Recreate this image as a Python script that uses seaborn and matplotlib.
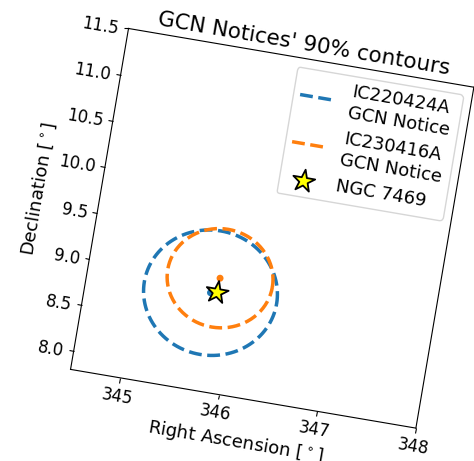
import numpy as np
import pandas as pd
import matplotlib
matplotlib.use("Agg")
import matplotlib.pyplot as plt
import matplotlib.transforms as mtransforms
from matplotlib.backend_bases import RendererBase
import seaborn as sns

# 90% error circles reported in the two GCN notices
events = ["IC220424A\nGCN Notice", "IC230416A\nGCN Notice"]
center_ra = [345.75, 345.82]
center_dec = [8.86, 9.03]
radius_deg = [0.67, 0.53]
event_colors = ["#1f77b4", "#ff7f0e"]

# Candidate host galaxy
source_name = "NGC 7469"
source_ra = [345.815]
source_dec = [8.874]

ra_ticks = [345, 346, 347, 348]
ra_lim = (344.5, 348.0)
dec_lim = (7.8, 11.5)

# the whole panel is drawn tilted clockwise about the centre of the axes
TILT_DEG = -9.65
FIG_W, FIG_H, DPI = 4.74, 4.61, 100
AX_W, AX_H = 350.3, 345.8          # axes size in pixels
AX_CX, AX_CY = 272.2, 232.7        # axes centre in pixels (origin bottom-left)


class TiltedRenderer:
    """Wraps a renderer and rotates everything it draws about a pivot."""

    def __init__(self, base, cx, cy, deg):
        self._base = base
        self._deg = deg
        self._rot = mtransforms.Affine2D().rotate_deg_around(cx, cy, deg)

    def __getattr__(self, name):
        return getattr(self._base, name)

    def draw_path(self, gc, path, transform, rgbFace=None):
        gc.set_clip_rectangle(None)
        gc.set_clip_path(None)
        self._base.draw_path(gc, path, transform + self._rot, rgbFace)

    def draw_markers(self, gc, marker_path, marker_trans, path, trans, rgbFace=None):
        RendererBase.draw_markers(self, gc, marker_path, marker_trans, path, trans, rgbFace)

    def draw_path_collection(self, *args, **kwargs):
        RendererBase.draw_path_collection(self, *args, **kwargs)

    def draw_text(self, gc, x, y, s, prop, angle, ismath=False, mtext=None):
        gc.set_clip_rectangle(None)
        h = self._base.height
        xr, yr = self._rot.transform((x, h - y))
        self._base.draw_text(gc, xr, h - yr, s, prop, angle + self._deg, ismath, mtext)


# contour outlines built from centre and radius
phi = np.linspace(0.0, 2.0 * np.pi, 241)
frames = []
for name, ra0, dec0, r in zip(events, center_ra, center_dec, radius_deg):
    frames.append(pd.DataFrame({
        "ra": ra0 + r * np.cos(phi),
        "dec": dec0 + r * np.sin(phi),
        "event": name,
    }))
contours = pd.concat(frames, ignore_index=True)

fig = plt.figure(figsize=(FIG_W, FIG_H), dpi=DPI)
W, H = FIG_W * DPI, FIG_H * DPI
ax = fig.add_axes([(AX_CX - AX_W / 2) / W, (AX_CY - AX_H / 2) / H, AX_W / W, AX_H / H])

for name, color in zip(events, event_colors):
    sns.lineplot(data=contours[contours["event"] == name], x="ra", y="dec",
                 sort=False, estimator=None, color=color, linestyle="--",
                 linewidth=2.5, label=name, ax=ax)

sns.scatterplot(x=center_ra, y=center_dec, hue=events, palette=event_colors,
                s=25, edgecolor="none", legend=False, ax=ax, zorder=3)
sns.scatterplot(x=source_ra, y=source_dec, marker="*", s=280, color="yellow",
                edgecolor="black", linewidth=1.3, label=source_name, ax=ax, zorder=4)

ax.set_xlim(ra_lim)
ax.set_ylim(dec_lim)
ax.set_xticks(ra_ticks)
ax.tick_params(labelsize=12)
ax.set_xlabel("Right Ascension [$^\\circ$]", fontsize=13)
ax.set_ylabel("Declination [$^\\circ$]", fontsize=13)
ax.set_title("GCN Notices' 90% contours", fontsize=15.5)
ax.legend(loc="upper right", fontsize=13)

_plain_draw = ax.draw


def _tilted_draw(renderer):
    _plain_draw(TiltedRenderer(renderer, AX_CX, AX_CY, TILT_DEG))


ax.draw = _tilted_draw

fig.savefig("out.png", dpi=DPI, facecolor="white")
